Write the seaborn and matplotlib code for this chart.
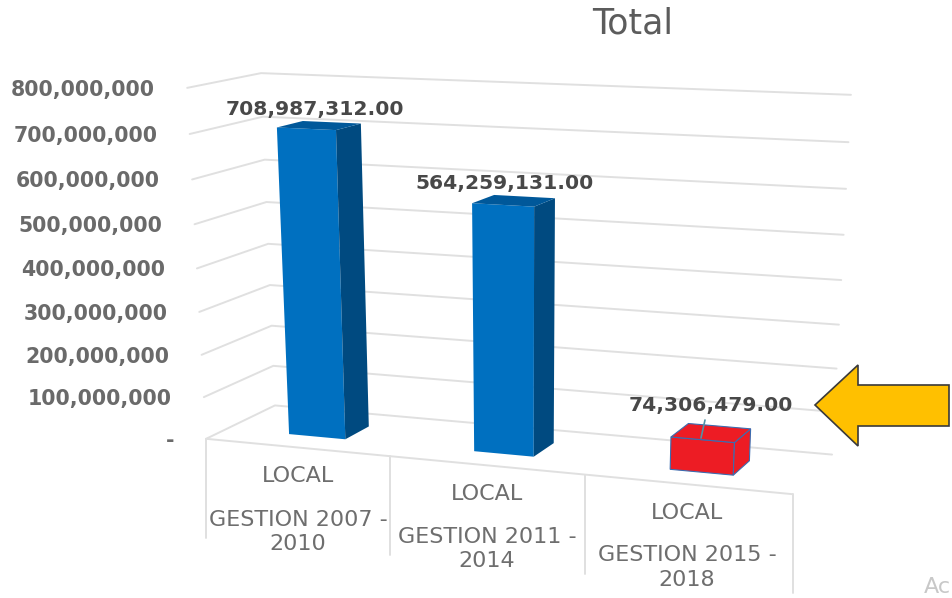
import numpy as np
import pandas as pd
import seaborn as sns
import matplotlib.pyplot as plt
from matplotlib.patches import Polygon
from matplotlib.transforms import Transform

# datos
categorias = ["GESTION 2007 - 2010", "GESTION 2011 - 2014", "GESTION 2015 - 2018"]
totales = [708987312.00, 564259131.00, 74306479.00]
tipo = ["LOCAL", "LOCAL", "LOCAL"]
gestion_1 = ["GESTION 2007 -", "GESTION 2011 -", "GESTION 2015 -"]
gestion_2 = ["2010", "2014", "2018"]
marcas = [0, 100000000, 200000000, 300000000, 400000000, 500000000, 600000000, 700000000, 800000000]
colores_frente = ["#0070C0", "#0070C0", "#ED1C24"]
colores_lado = ["#004A80", "#004A80", "#ED1C24"]
colores_tapa = ["#00589A", "#00589A", "#ED1C24"]

W, H = 952, 598
X0, X1 = -0.5, 2.5
VMAX = 800000000
D0, D1 = 0.30, 0.67  # fondo de las barras en el piso
ANCHO = 0.31
GRIS = "#e0e0e0"

# esquinas de la caja 3D en pixeles: (x, valor, profundidad) -> (px, py)
esquinas = [
    (X0, 0, 0, 207, 439), (X1, 0, 0, 793, 493), (0.5, 0, 0, 390, 457), (1.5, 0, 0, 585, 475),
    (X0, 0, 1, 275, 405), (X1, 0, 1, 832, 455),
    (X0, VMAX, 0, 187, 88), (X0, VMAX, 1, 261, 73), (X1, VMAX, 1, 851, 95),
    (X0, 100000000, 0, 203, 397), (X0, 500000000, 0, 195, 224),
]


def ajustar_camara(puntos):
    """Homografia 3D -> 2D por minimos cuadrados."""
    filas = []
    for x, v, d, px, py in puntos:
        p = [x, v / VMAX, d, 1]
        u, w = px / 1000, py / 1000
        filas.append(p + [0, 0, 0, 0] + [-u * c for c in p])
        filas.append([0, 0, 0, 0] + p + [-w * c for c in p])
    _, _, vt = np.linalg.svd(np.array(filas))
    return vt[-1].reshape(3, 4)


CAM = ajustar_camara(esquinas)


def proyectar(x, v, d):
    p = CAM @ np.array([x, v / VMAX, d, 1.0])
    return p[0] / p[2] * 1000, p[1] / p[2] * 1000


class Perspectiva(Transform):
    """Lleva (x, valor) de un plano de profundidad d a pixeles de la imagen."""
    input_dims = 2
    output_dims = 2
    is_separable = False

    def __init__(self, d):
        super().__init__()
        self.d = d

    def transform_non_affine(self, values):
        values = np.asarray(values)
        return np.array([proyectar(x, v, self.d) for x, v in values])


sns.set_theme(style="white")
plt.rcParams["font.family"] = ["DejaVu Sans"]

fig = plt.figure(figsize=(W / 100, H / 100), dpi=100)
ax = fig.add_axes([0, 0, 1, 1])
ov = fig.add_axes([0, 0, 1, 1], zorder=5)
ov.set_xlim(0, W)
ov.set_ylim(H, 0)
ov.axis("off")
ov.patch.set_alpha(0)

df = pd.DataFrame({"gestion": categorias, "total": totales})
sns.barplot(data=df, x="gestion", y="total", hue="gestion", palette=colores_frente,
            width=ANCHO, legend=False, saturation=1, ax=ax, zorder=3)
ax.set_xlim(X0, X1)
ax.set_ylim(0, VMAX)
ax.axis("off")

# paredes y grilla
for m in marcas:
    a = proyectar(X0, m, 0)
    b = proyectar(X0, m, 1)
    c = proyectar(X1, m, 1)
    ax.plot([a[0], b[0], c[0]], [a[1], b[1], c[1]], color=GRIS, lw=1.4,
            transform=ov.transData, clip_on=False, zorder=1)
    etiqueta = f"{m:,}" if m > 0 else "-"
    ov.text(a[0] - 32, a[1] + 2, etiqueta, ha="right", va="center", fontsize=14.8,
            fontweight="bold", color="#6a6a6a")

# borde frontal del piso y divisiones de categorias
a = proyectar(X0, 0, 0)
b = proyectar(X1, 0, 0)
ax.plot([a[0], b[0]], [a[1], b[1]], color=GRIS, lw=1.4, transform=ov.transData, zorder=1)
for x in [X0, 0.5, 1.5, X1]:
    p = proyectar(x, 0, 0)
    ax.plot([p[0], p[0]], [p[1], p[1] + 99], color=GRIS, lw=1.4, transform=ov.transData, zorder=1)

# barras: el frente es el de seaborn, lado y tapa salen de sus limites
for i, barra in enumerate(ax.patches):
    izq, der = barra.get_x(), barra.get_x() + barra.get_width()
    alto = barra.get_height()
    borde = "#3b6cb0" if i == 2 else "none"
    barra.set_transform(Perspectiva(D0) + ov.transData)
    barra.set_clip_on(False)
    barra.set_edgecolor(borde)
    barra.set_linewidth(0.8)
    lado = [proyectar(der, 0, D0), proyectar(der, 0, D1), proyectar(der, alto, D1), proyectar(der, alto, D0)]
    tapa = [proyectar(izq, alto, D0), proyectar(der, alto, D0), proyectar(der, alto, D1), proyectar(izq, alto, D1)]
    ax.add_patch(Polygon(lado, closed=True, fc=colores_lado[i], ec=borde, lw=0.8,
                         transform=ov.transData, clip_on=False, zorder=3))
    ax.add_patch(Polygon(tapa, closed=True, fc=colores_tapa[i], ec=borde, lw=0.8,
                         transform=ov.transData, clip_on=False, zorder=3))

# etiquetas de datos
pos_etiquetas = [(315, 109), (505, 184), (711, 405)]
for v, (px, py) in zip(totales, pos_etiquetas):
    ov.text(px, py, f"{v:,.2f}", ha="center", va="center", fontsize=14.6,
            fontweight="bold", color="#484848")
ov.plot([705, 701], [420, 438], color="#4f93a8", lw=1.2)

# textos de categorias
pos_cat = [(298, 476, 520, 544), (487, 494, 537, 561), (687, 513, 555, 580)]
for t, g1, g2, (px, y1, y2, y3) in zip(tipo, gestion_1, gestion_2, pos_cat):
    ov.text(px, y1, t, ha="center", va="center", fontsize=16, color="#6e6e6e")
    ov.text(px, y2, g1, ha="center", va="center", fontsize=16, color="#6e6e6e")
    ov.text(px, y3, g2, ha="center", va="center", fontsize=16, color="#6e6e6e")

ov.text(633, 23, "Total", ha="center", va="center", fontsize=25, color="#5c5c5c")
ov.text(924, 587, "Ac", ha="left", va="center", fontsize=16, color="#c8c8c8")

# flecha amarilla
flecha = [(815, 405), (858, 365), (858, 385), (949, 385), (949, 426), (858, 426), (858, 446)]
ov.add_patch(Polygon(flecha, closed=True, fc="#FFC000", ec="#3a3a3a", lw=1.2))

fig.savefig("out.png", dpi=100)
